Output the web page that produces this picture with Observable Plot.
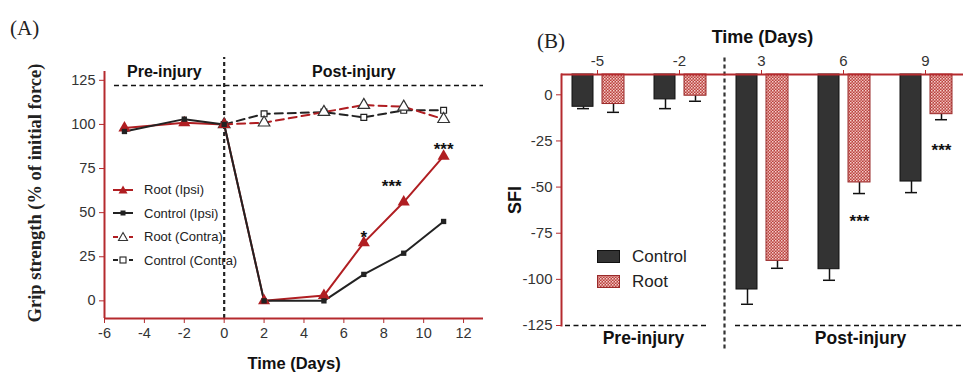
<!DOCTYPE html>
<html><head><meta charset="utf-8">
<script src="https://cdn.jsdelivr.net/npm/d3@7"></script>
<script src="https://cdn.jsdelivr.net/npm/@observablehq/plot@0.6"></script>
<style>
body{margin:0;background:#fff;font-family:"Liberation Sans",Arial,sans-serif;}
#wrap{position:relative;width:969px;height:373px;overflow:hidden;background:#fff;}
.panel{position:absolute;top:0;}
.plab{position:absolute;font-family:"Liberation Serif","Times New Roman",serif;font-size:21px;color:#222;}
.legA{position:absolute;left:113px;top:178px;font-size:13px;color:#222;line-height:1;}
.legA div{display:flex;align-items:center;height:23.5px;}
.legA svg{margin-right:11px;}
.legB{position:absolute;left:597px;top:244px;font-size:17px;color:#222;}
.legB div{display:flex;align-items:center;height:25px;}
.legB svg{margin-right:12px;}
</style></head><body>
<svg width="0" height="0" style="position:absolute">
  <defs>
    <pattern id="rootPattern" width="3" height="3" patternUnits="userSpaceOnUse">
      <rect width="3" height="3" fill="#b9423e"></rect>
      <rect width="1.5" height="1.5" fill="#f5d0cd"></rect>
      <rect x="1.5" y="1.5" width="1.5" height="1.5" fill="#e9a9a5"></rect>
    </pattern>
  </defs>
</svg>
<div id="wrap"></div>
<script>
// ---------- Panel A data ----------
const daysIpsi = [-5, -2, 0, 2, 5, 7, 9, 11];
const rootIpsi = [98, 101, 100, 0, 3, 33, 56, 82];
const controlIpsi = [96, 103, 100, 0, 0, 15, 27, 45];
const daysContra = [0, 2, 5, 7, 9, 11];
const rootContra = [100, 101, 107, 111, 110, 103];
const controlContra = [100, 106, 107, 104, 108, 108];
const xTicksA = [-6, -4, -2, 0, 2, 4, 6, 8, 10, 12];
const yTicksA = [0, 25, 50, 75, 100, 125];
const sigDaysA = [7, 8.4, 11];
const sigValuesA = [38, 67, 88];
const sigLabelsA = ["*", "***", "***"];
const phaseLabels = ["Pre-injury", "Post-injury"];
const phaseDaysA = [-3, 6.5];
const legendA = ["Root (Ipsi)", "Control (Ipsi)", "Root (Contra)", "Control (Contra)"];

// ---------- Panel B data ----------
const daysB = ["-5", "-2", "3", "6", "9"];
const controlSFI = [-6.5, -2.5, -105.5, -94.5, -47];
const controlErr = [1, 5, 8, 6, 6];
const rootSFI = [-5, -0.5, -90, -47.5, -10.5];
const rootErr = [4.5, 3, 4, 6, 3];
const yTicksB = [0, -25, -50, -75, -100, -125];
const sigDaysB = ["6", "9"];
const sigValuesB = [-67, -28.5];
const legendB = ["Control", "Root"];

const AXIS_RED = "#b52a2e";
const LINE_RED = "#b01e22";
const FONT = "Liberation Sans, Arial, sans-serif";
const SERIF = "Liberation Serif, Times New Roman, serif";

const rowsIpsi = daysIpsi.map((d, i) => ({day: d, root: rootIpsi[i], control: controlIpsi[i]}));
const rowsContra = daysContra.map((d, i) => ({day: d, root: rootContra[i], control: controlContra[i]}));
const sigA = sigDaysA.map((d, i) => ({day: d, v: sigValuesA[i], t: sigLabelsA[i]}));

const plotA = Plot.plot({
  width: 490, height: 373,
  marginLeft: 104, marginRight: 7, marginTop: 71, marginBottom: 55,
  x: {domain: [-6, 13]},
  y: {domain: [-10, 130]},
  style: {fontFamily: FONT, fontSize: "14px", color: "#333", background: "transparent", overflow: "visible"},
  marks: [
    Plot.ruleY([122], {x1: -5.5, x2: 13, stroke: "#111", strokeWidth: 1.5, strokeDasharray: "5,3.5"}),
    Plot.ruleX([0], {y1: -10, y2: 138, stroke: "#222", strokeWidth: 2.2, strokeDasharray: "4,3"}),
    Plot.line(rowsContra, {x: "day", y: "control", stroke: "#222", strokeWidth: 2, strokeDasharray: "8,5"}),
    Plot.line(rowsContra, {x: "day", y: "root", stroke: LINE_RED, strokeWidth: 2, strokeDasharray: "8,5"}),
    Plot.line(rowsIpsi, {x: "day", y: "root", stroke: LINE_RED, strokeWidth: 2}),
    Plot.line(rowsIpsi, {x: "day", y: "control", stroke: "#222", strokeWidth: 2}),
    Plot.dot(rowsContra, {x: "day", y: "control", symbol: "square", r: 3.3, fill: "white", stroke: "#222", strokeWidth: 1.2}),
    Plot.dot(rowsContra, {x: "day", y: "root", symbol: "triangle", r: 4.3, fill: "white", stroke: "#333", strokeWidth: 1.2}),
    Plot.dot(rowsIpsi, {x: "day", y: "root", symbol: "triangle", r: 4.5, fill: LINE_RED}),
    Plot.dot(rowsIpsi, {x: "day", y: "control", symbol: "square", r: 3, fill: "#222"}),
    Plot.ruleX([-6], {stroke: AXIS_RED, strokeWidth: 2}),
    Plot.ruleY([-10], {stroke: AXIS_RED, strokeWidth: 2}),
    Plot.axisX(xTicksA, {tickSize: 5, stroke: AXIS_RED, fill: "#333", label: null, tickFormat: d => String(d), fontSize: 14.5}),
    Plot.axisY(yTicksA, {tickSize: 5, stroke: AXIS_RED, fill: "#333", label: null, tickFormat: d => String(d), fontSize: 14.5}),
    Plot.text(phaseLabels, {x: phaseDaysA, y: 130, text: d => d, fontWeight: "bold", fontSize: 16, fill: "#111"}),
    Plot.text(sigA, {x: "day", y: "v", text: "t", fontWeight: "bold", fontSize: 17, fill: "#111", dy: 4}),
    Plot.text(["Grip strength (% of initial force)"], {frameAnchor: "left", textAnchor: "middle", lineAnchor: "middle", rotate: -90, dx: -69, dy: -2, fontFamily: SERIF, fontWeight: "bold", fontSize: 18.5, fill: "#222"}),
    Plot.text(["Time (Days)"], {frameAnchor: "bottom", lineAnchor: "middle", dy: 45, fontWeight: "bold", fontSize: 16.5, fill: "#111"})
  ]
});

const rowsB = daysB.map((d, i) => ({day: d, control: controlSFI[i], cErr: controlErr[i], root: rootSFI[i], rErr: rootErr[i]}));
const sigB = sigDaysB.map((d, i) => ({day: d, v: sigValuesB[i]}));
const yTopB = 11;

const plotB = Plot.plot({
  width: 479, height: 373,
  marginLeft: 71, marginRight: 6, marginTop: 74, marginBottom: 48,
  x: {type: "band", domain: daysB, range: [65, 476], padding: 0},
  y: {domain: [-125, yTopB]},
  style: {fontFamily: FONT, fontSize: "14px", color: "#333", background: "transparent", overflow: "visible"},
  marks: [
    Plot.ruleX(["-2"], {dx: 45, y1: 20, y2: -139, stroke: "#333", strokeWidth: 2.2, strokeDasharray: "4,3"}),
    Plot.ruleY([-125], {insetLeft: 4, insetRight: 256, stroke: "#111", strokeWidth: 1.5, strokeDasharray: "5,3.5"}),
    Plot.ruleY([-125], {insetLeft: 174, stroke: "#111", strokeWidth: 1.5, strokeDasharray: "5,3.5"}),
    Plot.ruleX(rowsB, {x: "day", y1: "control", y2: d => d.control - d.cErr, dx: -14, stroke: "#111", strokeWidth: 1.5}),
    Plot.tickY(rowsB, {x: "day", y: d => d.control - d.cErr, insetLeft: 21, insetRight: 49, stroke: "#111", strokeWidth: 1.5}),
    Plot.ruleX(rowsB, {x: "day", y1: "root", y2: d => d.root - d.rErr, dx: 16, stroke: "#111", strokeWidth: 1.5}),
    Plot.tickY(rowsB, {x: "day", y: d => d.root - d.rErr, insetLeft: 51, insetRight: 19, stroke: "#111", strokeWidth: 1.5}),
    Plot.barY(rowsB, {x: "day", y1: yTopB, y2: "control", fill: "#333", stroke: "#111", strokeWidth: 1, insetLeft: 16, insetRight: 45}),
    Plot.barY(rowsB, {x: "day", y1: yTopB, y2: "root", fill: "url(#rootPattern)", stroke: "#9a2a2a", strokeWidth: 1, insetLeft: 46, insetRight: 14}),
    Plot.ruleY([yTopB], {stroke: AXIS_RED, strokeWidth: 2}),
    Plot.frame({anchor: "left", stroke: AXIS_RED, strokeWidth: 2}),
    Plot.axisX({anchor: "top", tickSize: 5, stroke: AXIS_RED, fill: "#333", label: null, fontSize: 15}),
    Plot.axisY(yTicksB, {tickSize: 5, stroke: AXIS_RED, fill: "#333", label: null, tickFormat: d => String(d), fontSize: 15}),
    Plot.text(sigB, {x: "day", y: "v", text: () => "***", dx: 16, dy: 3, fontWeight: "bold", fontSize: 17, fill: "#111"}),
    Plot.text([phaseLabels[0]], {x: [daysB[0]], y: [-125], dx: 46, dy: 13, fontWeight: "bold", fontSize: 17.5, fill: "#111"}),
    Plot.text([phaseLabels[1]], {x: [daysB[3]], y: [-125], dx: 17, dy: 13, fontWeight: "bold", fontSize: 17.5, fill: "#111"}),
    Plot.text(["Time (Days)"], {frameAnchor: "top", lineAnchor: "middle", dy: -37, fontWeight: "bold", fontSize: 18, fill: "#111"}),
    Plot.text(["SFI"], {frameAnchor: "left", textAnchor: "middle", lineAnchor: "middle", rotate: -90, dx: -46, fontWeight: "bold", fontSize: 18, fill: "#111"})
  ]
});

const wrap = document.getElementById("wrap");
const pa = document.createElement("div"); pa.className = "panel"; pa.style.left = "0px"; pa.appendChild(plotA);
const pb = document.createElement("div"); pb.className = "panel"; pb.style.left = "490px"; pb.appendChild(plotB);
wrap.appendChild(pa); wrap.appendChild(pb);

// panel letters
const la = document.createElement("div"); la.className = "plab"; la.style.left = "10px"; la.style.top = "16px"; la.textContent = "(A)";
const lb = document.createElement("div"); lb.className = "plab"; lb.style.left = "537px"; lb.style.top = "29px"; lb.textContent = "(B)";
wrap.appendChild(la); wrap.appendChild(lb);

// legend A
const symA = [
  `<line x1="0" y1="6" x2="20" y2="6" stroke="${LINE_RED}" stroke-width="2"/><path d="M10,1.5 L14.5,9.5 L5.5,9.5 Z" fill="${LINE_RED}"/>`,
  `<line x1="0" y1="6" x2="20" y2="6" stroke="#222" stroke-width="2"/><rect x="7.5" y="3.5" width="5" height="5" fill="#222"/>`,
  `<line x1="0" y1="6" x2="20" y2="6" stroke="${LINE_RED}" stroke-width="2" stroke-dasharray="5,3"/><path d="M10,1.5 L14.5,9.5 L5.5,9.5 Z" fill="white" stroke="#333" stroke-width="1.1"/>`,
  `<line x1="0" y1="6" x2="20" y2="6" stroke="#222" stroke-width="2" stroke-dasharray="5,3"/><rect x="7" y="3" width="6" height="6" fill="white" stroke="#222" stroke-width="1.1"/>`
];
const lgA = document.createElement("div"); lgA.className = "legA";
lgA.innerHTML = legendA.map((t, i) => `<div><svg width="20" height="12">${symA[i]}</svg><span>${t}</span></div>`).join("");
wrap.appendChild(lgA);

// legend B
const symB = [
  `<rect x="0.5" y="0.5" width="22" height="12" fill="#333" stroke="#111"/>`,
  `<rect x="0.5" y="0.5" width="22" height="12" fill="url(#rootPattern)" stroke="#9a2a2a"/>`
];
const lgB = document.createElement("div"); lgB.className = "legB";
lgB.innerHTML = legendB.map((t, i) => `<div><svg width="23" height="13">${symB[i]}</svg><span>${t}</span></div>`).join("");
wrap.appendChild(lgB);
</script>
</body></html>
